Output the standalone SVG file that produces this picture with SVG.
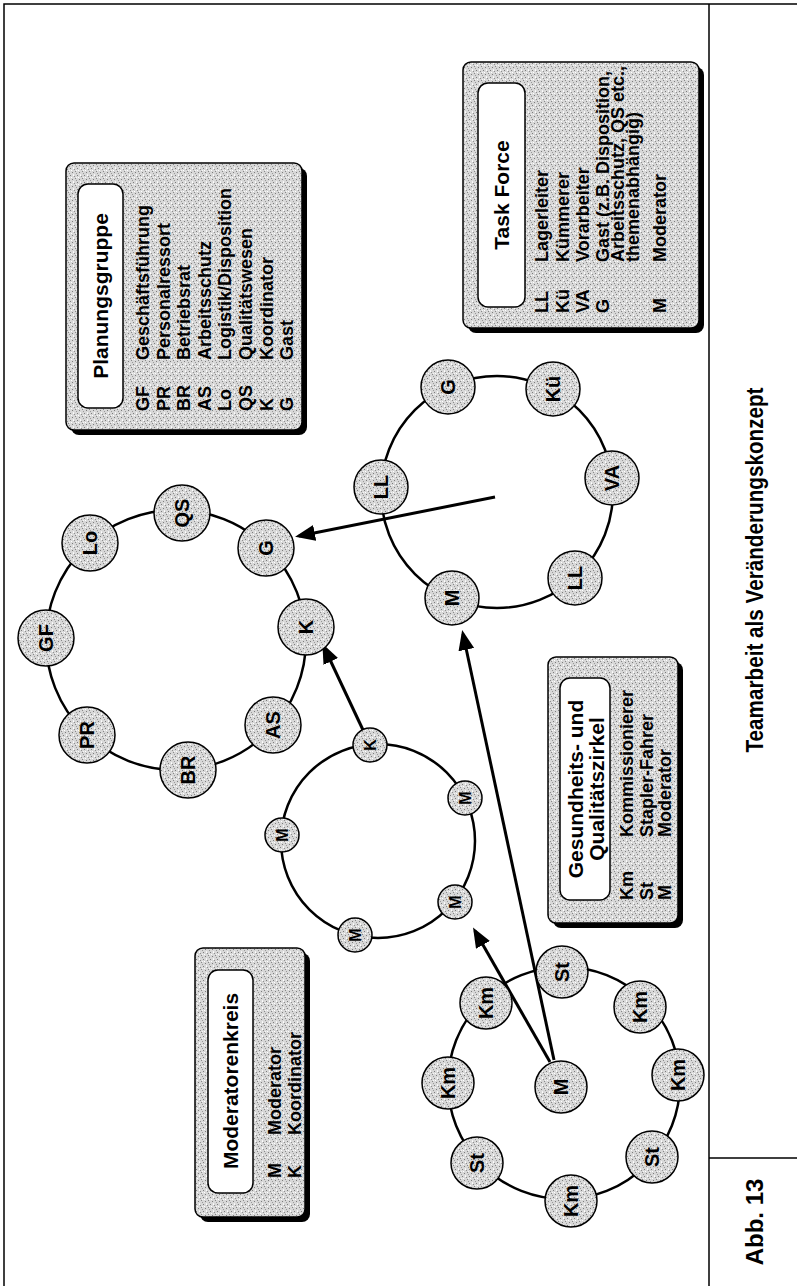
<svg xmlns="http://www.w3.org/2000/svg" width="797" height="1286" viewBox="0 0 797 1286">
<defs>
<pattern id="stip" width="7" height="7" patternUnits="userSpaceOnUse">
<rect width="7" height="7" fill="#d8d8d8"/>
<rect x="0" y="0" width="1" height="1" fill="#7c7c7c"/>
<rect x="4" y="1" width="1" height="1" fill="#8e8e8e"/>
<rect x="2" y="4" width="1" height="1" fill="#7c7c7c"/>
<rect x="6" y="5" width="1" height="1" fill="#999"/>
<rect x="5" y="3" width="1" height="1" fill="#888"/>
<rect x="1" y="2" width="1" height="1" fill="#fff"/>
<rect x="3" y="0" width="1" height="1" fill="#fff"/>
<rect x="3" y="6" width="1" height="1" fill="#f4f4f4"/>
<rect x="6" y="2" width="1" height="1" fill="#f6f6f6"/>
</pattern>
<marker id="ah" markerUnits="userSpaceOnUse" markerWidth="20" markerHeight="16" viewBox="0 0 20 16" refX="16" refY="8" orient="auto">
<path d="M0,0 L20,8 L0,16 z" fill="#000"/>
</marker>
<style>
.t{font-family:"Liberation Sans",Arial,sans-serif;font-weight:bold;fill:#000;dominant-baseline:central}
.row{font-size:18px}
.ttl{font-size:21px;text-anchor:middle}
.nl{font-size:20px;text-anchor:middle}
.ns{font-size:16px;text-anchor:middle}
.cap{font-size:24px;text-anchor:middle}
.box{fill:url(#stip);stroke:#000;stroke-width:1.5}
.shadow{fill:#000}
.title{fill:#fff;stroke:#000;stroke-width:1.5}
.ring{fill:none;stroke:#000;stroke-width:2.5}
.node{fill:url(#stip);stroke:#000;stroke-width:1.5}
.frame{stroke:#000;stroke-width:1.5;fill:none}
.arrow{stroke:#000;stroke-width:3;fill:none;marker-end:url(#ah)}
</style>
</defs>
<rect width="797" height="1286" fill="#fff"/>

<g id="frame">
<path class="frame" d="M4,1286 L4,4 L797,4 M709,4 L709,1286 M709,1158 L797,1158"/>
<text class="t cap" transform="translate(754 570) rotate(-90)" textLength="365" lengthAdjust="spacingAndGlyphs">Teamarbeit als Veränderungskonzept</text>
<text class="t cap" transform="translate(754 1222) rotate(-90)">Abb. 13</text>
</g>

<g id="rings">
<circle class="ring" cx="176" cy="640" r="130"/>
<circle class="ring" cx="497" cy="492" r="116"/>
<circle class="ring" cx="378" cy="841" r="97"/>
<circle class="ring" cx="564" cy="1083" r="116"/>
</g>

<g id="legend-planungsgruppe">
<rect class="shadow" x="71" y="168" width="236" height="267" rx="8"/>
<rect class="box" x="66" y="163" width="236" height="267" rx="8"/>
<rect class="title" x="78" y="184" width="45" height="224" rx="10"/>
<text class="t ttl" transform="translate(100.5 296) rotate(-90)">Planungsgruppe</text>
<g class="t row">
<text transform="translate(143 411) rotate(-90)">GF</text><text transform="translate(143 360) rotate(-90)">Geschäftsführung</text>
<text transform="translate(164 411) rotate(-90)">PR</text><text transform="translate(164 360) rotate(-90)">Personalressort</text>
<text transform="translate(184 411) rotate(-90)">BR</text><text transform="translate(184 360) rotate(-90)">Betriebsrat</text>
<text transform="translate(205 411) rotate(-90)">AS</text><text transform="translate(205 360) rotate(-90)">Arbeitsschutz</text>
<text transform="translate(225 411) rotate(-90)">Lo</text><text transform="translate(225 360) rotate(-90)">Logistik/Disposition</text>
<text transform="translate(246 411) rotate(-90)">QS</text><text transform="translate(246 360) rotate(-90)">Qualitätswesen</text>
<text transform="translate(267 411) rotate(-90)">K</text><text transform="translate(267 360) rotate(-90)">Koordinator</text>
<text transform="translate(287 411) rotate(-90)">G</text><text transform="translate(287 360) rotate(-90)">Gast</text>
</g>
</g>

<g id="legend-taskforce">
<rect class="shadow" x="468" y="67" width="236" height="266" rx="8"/>
<rect class="box" x="463" y="62" width="236" height="266" rx="8"/>
<rect class="title" x="478" y="83" width="47" height="224" rx="10"/>
<text class="t ttl" transform="translate(501.5 195) rotate(-90)">Task Force</text>
<g class="t row">
<text transform="translate(542 313) rotate(-90)">LL</text><text transform="translate(542 262) rotate(-90)">Lagerleiter</text>
<text transform="translate(563 313) rotate(-90)">Kü</text><text transform="translate(563 262) rotate(-90)">Kümmerer</text>
<text transform="translate(583 313) rotate(-90)">VA</text><text transform="translate(583 262) rotate(-90)">Vorarbeiter</text>
<text transform="translate(603 313) rotate(-90)">G</text><text transform="translate(603 262) rotate(-90)">Gast (z.B. Disposition,</text>
<text transform="translate(618 262) rotate(-90)">Arbeitsschutz, QS etc.,</text>
<text transform="translate(633 262) rotate(-90)">themenabhängig)</text>
<text transform="translate(660 313) rotate(-90)">M</text><text transform="translate(660 262) rotate(-90)">Moderator</text>
</g>
</g>

<g id="legend-gesundheit">
<rect class="shadow" x="553" y="662" width="130" height="266" rx="8"/>
<rect class="box" x="548" y="657" width="130" height="266" rx="8"/>
<rect class="title" x="560" y="678" width="50" height="222" rx="10"/>
<text class="t ttl" transform="translate(575 789) rotate(-90)">Gesundheits- und</text>
<text class="t ttl" transform="translate(596 789) rotate(-90)">Qualitätszirkel</text>
<g class="t row">
<text transform="translate(627 900) rotate(-90)">Km</text><text transform="translate(627 837) rotate(-90)">Kommissionierer</text>
<text transform="translate(647 900) rotate(-90)">St</text><text transform="translate(647 837) rotate(-90)">Stapler-Fahrer</text>
<text transform="translate(665 900) rotate(-90)">M</text><text transform="translate(665 837) rotate(-90)">Moderator</text>
</g>
</g>

<g id="legend-moderatorenkreis">
<rect class="shadow" x="200" y="953" width="110" height="269" rx="8"/>
<rect class="box" x="195" y="948" width="110" height="269" rx="8"/>
<rect class="title" x="208" y="970" width="45" height="223" rx="10"/>
<text class="t ttl" transform="translate(230.5 1081) rotate(-90)">Moderatorenkreis</text>
<g class="t row">
<text transform="translate(275 1178) rotate(-90)">M</text><text transform="translate(275 1135) rotate(-90)">Moderator</text>
<text transform="translate(295 1178) rotate(-90)">K</text><text transform="translate(295 1135) rotate(-90)">Koordinator</text>
</g>
</g>

<g id="connectors">
<line class="arrow" x1="495" y1="497" x2="299" y2="536"/>
<line class="arrow" x1="363" y1="730" x2="324" y2="647"/>
<line class="arrow" x1="554" y1="1060" x2="463" y2="634"/>
<line class="arrow" x1="550" y1="1062" x2="475" y2="931"/>
</g>

<g id="planungsgruppe-ring">
<g id="pg-GF"><circle class="node" cx="46" cy="638" r="28"/><text class="t nl" transform="translate(46 638) rotate(-90)">GF</text></g>
<g id="pg-Lo"><circle class="node" cx="90" cy="543" r="28"/><text class="t nl" transform="translate(90 543) rotate(-90)">Lo</text></g>
<g id="pg-QS"><circle class="node" cx="182" cy="513" r="28"/><text class="t nl" transform="translate(182 513) rotate(-90)">QS</text></g>
<g id="pg-G"><circle class="node" cx="266" cy="548" r="28"/><text class="t nl" transform="translate(266 548) rotate(-90)">G</text></g>
<g id="pg-K"><circle class="node" cx="306" cy="627" r="28"/><text class="t nl" transform="translate(306 627) rotate(-90)">K</text></g>
<g id="pg-AS"><circle class="node" cx="273" cy="725" r="28"/><text class="t nl" transform="translate(273 725) rotate(-90)">AS</text></g>
<g id="pg-BR"><circle class="node" cx="188" cy="770" r="28"/><text class="t nl" transform="translate(188 770) rotate(-90)">BR</text></g>
<g id="pg-PR"><circle class="node" cx="87" cy="735" r="28"/><text class="t nl" transform="translate(87 735) rotate(-90)">PR</text></g>
</g>

<g id="taskforce-ring">
<g id="tf-LL1"><circle class="node" cx="381" cy="487" r="27"/><text class="t nl" transform="translate(381 487) rotate(-90)">LL</text></g>
<g id="tf-G"><circle class="node" cx="448" cy="387" r="27"/><text class="t nl" transform="translate(448 387) rotate(-90)">G</text></g>
<g id="tf-Ku"><circle class="node" cx="553" cy="389" r="27"/><text class="t nl" transform="translate(553 389) rotate(-90)">Kü</text></g>
<g id="tf-VA"><circle class="node" cx="612" cy="478" r="27"/><text class="t nl" transform="translate(612 478) rotate(-90)">VA</text></g>
<g id="tf-LL2"><circle class="node" cx="575" cy="578" r="27"/><text class="t nl" transform="translate(575 578) rotate(-90)">LL</text></g>
<g id="tf-M"><circle class="node" cx="452" cy="598" r="27"/><text class="t nl" transform="translate(452 598) rotate(-90)">M</text></g>
</g>

<g id="moderatoren-ring">
<g id="mk-K"><circle class="node" cx="370" cy="745" r="17"/><text class="t ns" transform="translate(370 745) rotate(-90)">K</text></g>
<g id="mk-M1"><circle class="node" cx="465" cy="798" r="17"/><text class="t ns" transform="translate(465 798) rotate(-90)">M</text></g>
<g id="mk-M2"><circle class="node" cx="455" cy="902" r="17"/><text class="t ns" transform="translate(455 902) rotate(-90)">M</text></g>
<g id="mk-M3"><circle class="node" cx="355" cy="935" r="17"/><text class="t ns" transform="translate(355 935) rotate(-90)">M</text></g>
<g id="mk-M4"><circle class="node" cx="282" cy="835" r="17"/><text class="t ns" transform="translate(282 835) rotate(-90)">M</text></g>
</g>

<g id="gesundheit-ring">
<g id="gq-St1"><circle class="node" cx="562" cy="972" r="26"/><text class="t nl" transform="translate(562 972) rotate(-90)">St</text></g>
<g id="gq-Km1"><circle class="node" cx="640" cy="1007" r="26"/><text class="t nl" transform="translate(640 1007) rotate(-90)">Km</text></g>
<g id="gq-Km2"><circle class="node" cx="678" cy="1075" r="26"/><text class="t nl" transform="translate(678 1075) rotate(-90)">Km</text></g>
<g id="gq-St2"><circle class="node" cx="652" cy="1157" r="26"/><text class="t nl" transform="translate(652 1157) rotate(-90)">St</text></g>
<g id="gq-Km3"><circle class="node" cx="571" cy="1201" r="26"/><text class="t nl" transform="translate(571 1201) rotate(-90)">Km</text></g>
<g id="gq-St3"><circle class="node" cx="477" cy="1163" r="26"/><text class="t nl" transform="translate(477 1163) rotate(-90)">St</text></g>
<g id="gq-Km4"><circle class="node" cx="448" cy="1083" r="26"/><text class="t nl" transform="translate(448 1083) rotate(-90)">Km</text></g>
<g id="gq-Km5"><circle class="node" cx="486" cy="1003" r="26"/><text class="t nl" transform="translate(486 1003) rotate(-90)">Km</text></g>
<g id="gq-M"><circle class="node" cx="561" cy="1087" r="26"/><text class="t nl" transform="translate(561 1087) rotate(-90)">M</text></g>
</g>
</svg>
